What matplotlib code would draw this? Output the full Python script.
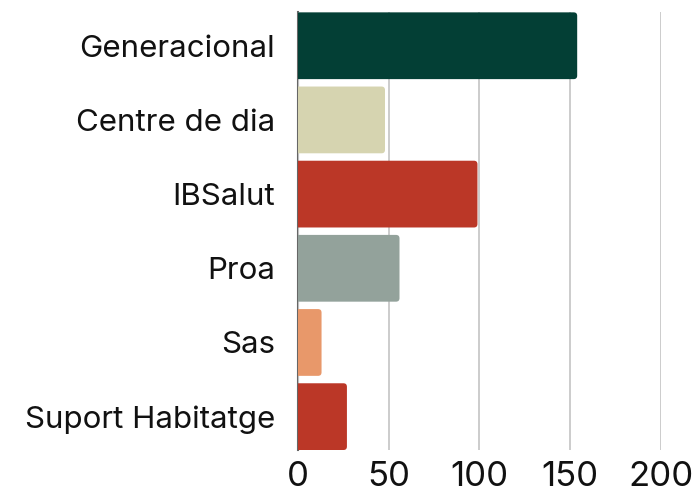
import matplotlib.pyplot as plt
from matplotlib.patches import FancyBboxPatch

# Dades
categories = ['Generacional', 'Centre de dia', 'IBSalut', 'Proa', 'Sas', 'Suport Habitatge']
valors = [154, 48, 99, 56, 13, 27]
colors = ['#033f35', '#d6d4b0', '#bb3727', '#93a29b', '#e8986a', '#bb3727']
ticks_x = [0, 50, 100, 150, 200]

plt.rcParams['font.family'] = ['Inter', 'DejaVu Sans']

fig = plt.figure(figsize=(6.92, 4.94), dpi=100)
ax = fig.add_axes([0.4306, 0.089, 0.524, 0.886])

ypos = list(range(len(categories)))
bars = ax.barh(ypos, valors, height=0.9, color=colors, zorder=3)

# cantonades arrodonides (a l'esquerra queden amagades fora de l'eix)
px_x = 0.524 * 692 / 200
px_y = 0.886 * 494 / 5.9
radi = 3.5 / px_x
for b in bars:
    x0, y0 = b.get_x(), b.get_y()
    w, h = b.get_width(), b.get_height()
    p = FancyBboxPatch((x0 - 3, y0), w + 3, h,
                       boxstyle=f'round,pad=0,rounding_size={radi}',
                       mutation_aspect=px_x / px_y,
                       facecolor=b.get_facecolor(), edgecolor='none', zorder=3)
    ax.add_patch(p)
    b.set_visible(False)

ax.set_xlim(0, 200)
ax.set_ylim(len(categories) - 0.55, -0.45)
ax.set_yticks(ypos)
ax.set_yticklabels(categories)
ax.set_xticks(ticks_x)

ax.grid(axis='x', color='#c8c8c8', linewidth=1.3, zorder=0)
for s in ['top', 'right', 'bottom']:
    ax.spines[s].set_visible(False)
ax.spines['left'].set_color('#666666')
ax.spines['left'].set_linewidth(1.5)
ax.spines['left'].set_zorder(1)

ax.tick_params(axis='y', length=0, pad=16.5, labelsize=22.5, labelcolor='#111111')
ax.tick_params(axis='x', length=0, pad=8, labelsize=25, labelcolor='#111111')

fig.savefig('out.png', dpi=100)
